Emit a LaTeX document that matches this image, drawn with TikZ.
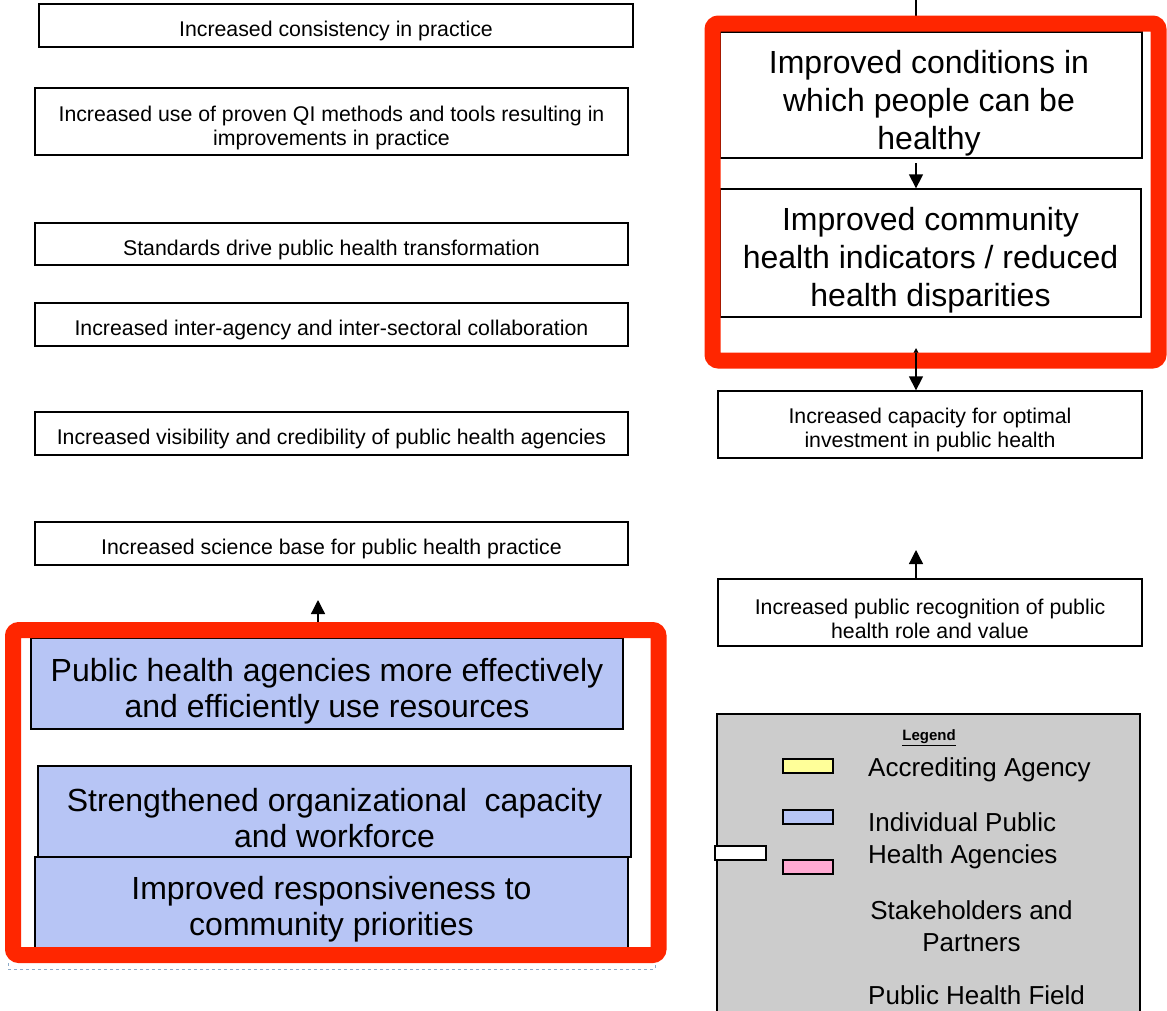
\documentclass[tikz,border=0pt]{standalone}
\usepackage{fontspec}
\setmainfont{Liberation Sans}
\usetikzlibrary{arrows.meta}
\definecolor{redf}{RGB}{255,38,0}
\definecolor{bluef}{RGB}{183,197,245}
\definecolor{yellowf}{RGB}{255,255,153}
\definecolor{pinkf}{RGB}{255,170,210}
\definecolor{grayf}{RGB}{204,204,204}
\definecolor{dashc}{RGB}{140,170,200}
\begin{document}
\begin{tikzpicture}[x=1pt,y=-1pt,
  box/.style={draw=black, line width=1.3pt, fill=white, inner sep=0pt, rectangle},
  bluebox/.style={box, fill=bluef},
  smalltxt/.style={font=\fontsize{21.3}{24}\selectfont, align=center, inner sep=0pt, yshift=-3pt},
  bigtxt/.style={font=\fontsize{32}{38}\selectfont, align=center, inner sep=0pt, yshift=-3pt},
  bluetxt/.style={font=\fontsize{32}{36}\selectfont, align=center, inner sep=0pt, yshift=-3pt},
  legtxt/.style={font=\fontsize{26}{32}\selectfont, inner sep=0pt, yshift=-3pt},
  swatch/.style={draw=black, line width=1.5pt, inner sep=0pt, minimum width=50pt, minimum height=14pt},
  redframe/.style={draw=redf, line width=16pt, rounded corners=6pt},
  arr/.style={line width=1.3pt, -{Triangle[width=14pt,length=14pt]}}
]
\useasboundingbox (0,0) rectangle (1167,1010);
\fill[white] (0,0) rectangle (1167,1010);

% ---------- left column ----------
\node[box, minimum width=594pt, minimum height=43pt] (b1) at (336,25.5) {};
\node[smalltxt] (b1t) at (336,28) {Increased consistency in practice};
\node[box, minimum width=593pt, minimum height=67pt] (b2) at (331.5,121.5) {};
\node[smalltxt] (b2t) at (331.5,125) {Increased use of proven QI methods and tools resulting in\\improvements in practice};
\node[box, minimum width=593pt, minimum height=42pt] (b3) at (331.5,244) {};
\node[smalltxt] (b3t) at (331.5,247) {Standards drive public health transformation};
\node[box, minimum width=593pt, minimum height=43pt] (b4) at (331.5,324.5) {};
\node[smalltxt] (b4t) at (331.5,327) {Increased inter-agency and inter-sectoral collaboration};
\node[box, minimum width=593pt, minimum height=43pt] (b5) at (331.5,433.5) {};
\node[smalltxt] (b5t) at (331.5,436) {Increased visibility and credibility of public health agencies};
\node[box, minimum width=593pt, minimum height=43pt] (b6) at (331.5,543.5) {};
\node[smalltxt] (b6t) at (331.5,546) {Increased science base for public health practice};

\coordinate (la) at (318,600);
\coordinate (lb) at (318,630);
\draw[arr] (lb) -- (la);

\node[bluebox, minimum width=592pt, minimum height=91pt] (p1) at (327,683.5) {};
\node[bluetxt] (p1t) at (327,688) {Public health agencies more effectively\\and efficiently use resources};
\node[bluebox, minimum width=593pt, minimum height=91pt] (p2) at (334.5,811.5) {};
\node[bluetxt] (p2t) at (334.5,815) {Strengthened organizational~ capacity\\and workforce};
\node[bluebox, minimum width=593pt, minimum height=93pt] (p3) at (331.5,903.5) {};
\node[bluetxt] (p3t) at (331.5,906.5) {Improved responsiveness to\\community priorities};

\draw[dashc, line width=1pt, dashed] (8,963) -- (8,969) -- (655,969) -- (655,963);
\draw[redframe] (13,630) rectangle (658.5,955);

% ---------- right column ----------
\coordinate (top) at (916,0);
\node[box, minimum width=422pt, minimum height=126pt] (r1) at (931,95) {};
\node[bigtxt] (r1t) at (929,100) {Improved conditions in\\which people can be\\healthy};
\node[box, minimum width=421pt, minimum height=128pt] (r2) at (930.5,253) {};
\node[bigtxt] (r2t) at (930.5,257.5) {Improved community\\health indicators / reduced\\health disparities};
\draw[line width=1.3pt] (top) -- (top |- r1.north);
\coordinate (r1out) at (916,163);
\draw[arr] (r1out) -- (r1out |- r2.north);

\coordinate (uptip) at (916,348);
\coordinate (upbase) at (916,372);
\draw[arr] (upbase) -- (uptip);

\draw[redframe] (712.5,23.5) rectangle (1158.5,360.5);

\node[box, minimum width=424pt, minimum height=67pt] (r3) at (930,424.5) {};
\node[smalltxt] (r3t) at (930,427) {Increased capacity for optimal\\investment in public health};
\coordinate (dnstart) at (916,353);
\draw[arr] (dnstart) -- (dnstart |- r3.north);

\node[box, minimum width=424pt, minimum height=67pt] (r4) at (930,612.5) {};
\node[smalltxt] (r4t) at (930,615.5) {Increased public recognition of public\\health role and value};
\coordinate (r4tip) at (916,550);
\draw[arr] (r4tip |- r4.north) -- (r4tip);

% ---------- legend ----------
\draw[black, line width=1.5pt, fill=grayf] (717,714) rectangle (1140,1016);
\node[inner sep=0pt, yshift=-3pt, font=\fontsize{15}{18}\selectfont\bfseries] (legt) at (929,735) {\underline{Legend}};
\node[swatch, fill=yellowf] (sy) at (808,766) {};
\node[swatch, fill=bluef] (sb) at (808,817) {};
\node[swatch, fill=pinkf] (sp) at (808,867) {};
\node[swatch, fill=white, minimum width=51pt] (sw) at (740.5,853) {};
\node[legtxt, anchor=west] (l1) at (868,767) {Accrediting Agency};
\node[legtxt, anchor=west, align=left] (l2) at (868,838) {Individual Public\\Health Agencies};
\node[legtxt, align=center] (l3) at (971.5,923) {Stakeholders and\\Partners};
\node[legtxt, anchor=west] (l4) at (868,992) {Public Health Field};
\end{tikzpicture}
\end{document}
